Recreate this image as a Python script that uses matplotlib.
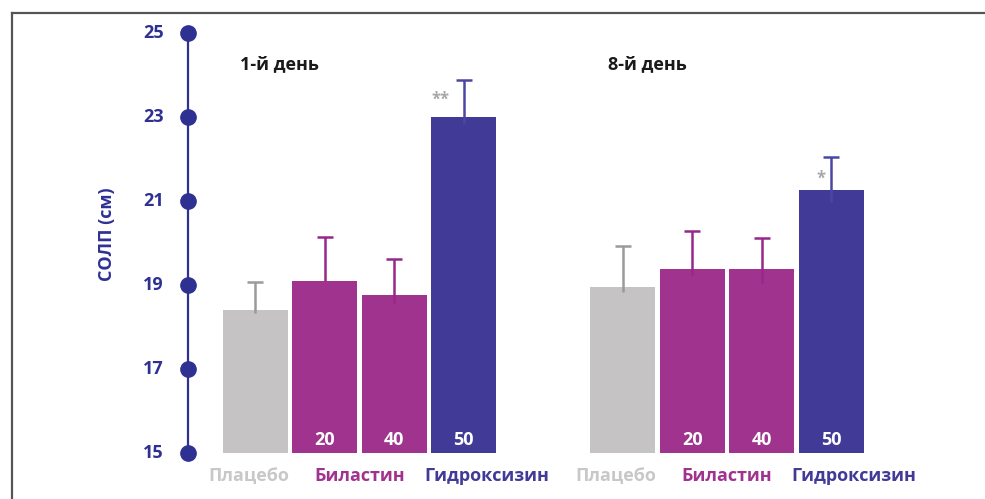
import matplotlib.pyplot as plt

plt.rcParams['font.family'] = ['Open Sans', 'DejaVu Sans']

days = ['1-й день', '8-й день']
drugs = ['Плацебо', 'Биластин', 'Гидроксизин']
doses = ['', '20', '40', '50']
day1_mean = [18.4, 19.1, 18.75, 23.0]
day1_up = [0.68, 1.05, 0.88, 0.88]
day1_dn = [0.07, 0.0, 0.17, 0.17]
day8_mean = [18.95, 19.38, 19.38, 21.25]
day8_up = [0.97, 0.9, 0.73, 0.8]
day8_dn = [0.12, 0.14, 0.33, 0.28]
stars = ['**', '*']
yticks = [15, 17, 19, 21, 23, 25]

navy = '#2e3192'
bar_colors = ['#c6c3c4', '#a0338e', '#a0338e', '#413a96']
err_colors = ['#9a9a9a', '#97278a', '#97278a', '#4b46a3']
label_colors = ['#c8c8c8', '#a0338e', '#413a96']

fig = plt.figure(figsize=(9.85, 4.99), dpi=100)
W, H = 985, 499
ax = fig.add_axes([188 / W, 46 / H, 797 / W, 420 / H])
pitch = 69.6
ax.set_xlim(-(255 - 188) / pitch, (985 - 255) / pitch)
ax.set_ylim(15, 25)
ax.axis('off')

# frame lines
fig.add_artist(plt.Line2D([12 / W, 1], [1 - 13 / H, 1 - 13 / H], color='#555555', lw=1.6))
fig.add_artist(plt.Line2D([12 / W, 12 / W], [0, 1 - 13 / H], color='#555555', lw=1.6))

# y axis with dots
x0 = ax.get_xlim()[0]
ax.plot([x0, x0], [yticks[0], yticks[-1]], color=navy, lw=1.6, clip_on=False)
ax.plot([x0] * len(yticks), yticks, 'o', color=navy, ms=11, clip_on=False)
for t in yticks:
    ax.text(x0 - 0.35, t, str(t), ha='right', va='center', fontsize=13,
            fontweight='bold', color=navy)
ax.text(x0 - 1.16, 20.2, 'СОЛП (см)', rotation=90, ha='center', va='center',
        fontsize=13, fontweight='bold', color=navy)

group_start = [0, (622.5 - 255) / pitch]
width = 65 / pitch
data = [(day1_mean, day1_up, day1_dn), (day8_mean, day8_up, day8_dn)]
star_dx = [-0.33, -0.15]
star_dy = [0.4, 0.27]

for g, (means, up, dn) in enumerate(data):
    xs = [group_start[g] + i for i in range(len(means))]
    ax.bar(xs, [m - 15 for m in means], bottom=15, width=width, color=bar_colors)
    for i, x in enumerate(xs):
        ax.vlines(x, means[i] - dn[i], means[i] + up[i], color=err_colors[i], lw=1.8, zorder=3)
        ax.plot(x, means[i] + up[i], marker='_', ms=12, mew=1.8, color=err_colors[i], zorder=3)
        if doses[i]:
            ax.text(x, 15.3, doses[i], ha='center', va='center', color='white',
                    fontsize=13, fontweight='bold')
    ax.text(xs[3] + star_dx[g], means[3] + star_dy[g], stars[g], ha='center', va='center',
            color='#a8a8a8', fontsize=12, fontweight='bold')
    ax.text(xs[0] - 0.21, 24.26, days[g], ha='left', va='center', fontsize=13,
            fontweight='bold', color='#1a1a1a')
    label_x = [xs[0] - 0.09, (xs[1] + xs[2]) / 2, xs[3] + 0.33]
    for j, name in enumerate(drugs):
        ax.text(label_x[j], 14.45, name, ha='center', va='center', fontsize=13,
                fontweight='bold', color=label_colors[j], clip_on=False)

fig.savefig('out.png', dpi=100)
